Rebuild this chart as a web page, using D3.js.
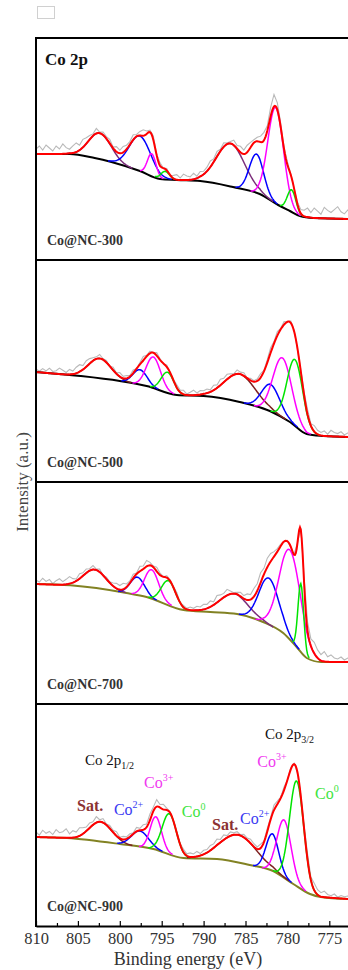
<!DOCTYPE html>
<html>
<head>
<meta charset="utf-8">
<script src="https://cdn.jsdelivr.net/npm/d3@7"></script>
<style>
  body { margin: 0; background: #fff; }
  svg { display: block; }
</style>
</head>
<body>
<svg id="chart" width="348" height="970"></svg>
<script>
// ---- data ----
const xTicks = [810, 805, 800, 795, 790, 785, 780, 775];
const xMinorTicks = [807.5, 802.5, 797.5, 792.5, 787.5, 782.5, 777.5, 772.5];
const samples = ["Co@NC-300", "Co@NC-500", "Co@NC-700", "Co@NC-900"];

// Shirley-type backgrounds [eV, intensity]
const bg300 = [[810,106],[806,106],[803,102],[801,98],[797.6,89],[795.2,81],[793.2,80],[790.4,79],[786.5,73],[783.3,66],[781.1,55],[779.7,49],[778.5,44],[776.9,42],[772.8,41]];
const bg500 = [[810,110],[804.7,106],[800,101],[796.8,96],[793.2,87],[790,86],[785.7,80],[782.1,71],[779.7,60],[777.7,48],[775.7,46],[772.8,45]];
const bg700 = [[810,120],[805.9,118.7],[799.2,111],[796.8,107],[792.4,94],[789.2,92],[786,90],[782.9,82],[780.5,71],[778.9,57],[777.7,46],[776,42],[772.8,42]];
const bg900 = [[810,89],[806.3,88],[800,82],[796,77],[792.4,68],[788.4,67],[784.5,61],[781.7,55],[779.3,42],[777.3,32],[776,29],[772.8,27]];

// fitted components [centre eV, height, FWHM, species]
const fit300 = [[802.4,26,3.2,"sat"],[797.6,35,3.0,"co2"],[796.2,22,1.2,"co3"],[794.6,8,1.2,"co0"],
                [786.8,43,4.0,"sat"],[783.7,39,2.0,"co2"],[781.4,96,2.2,"co3"],[779.5,22,1.2,"co0"]];
const fit500 = [[802.4,20,3.2,"sat"],[797.6,15,2.0,"co2"],[796.0,31,2.0,"co3"],[794.3,20,1.8,"co0"],
                [785.7,28,4.5,"sat"],[782.0,27,2.6,"co2"],[780.6,60,2.6,"co3"],[779.1,66,2.2,"co0"]];
const fit700 = [[803.0,19,3.2,"sat"],[797.9,18,2.0,"co2"],[796.2,29,2.0,"co3"],[794.2,24,2.0,"co0"],
                [786.4,20,4.0,"sat"],[782.2,47,2.8,"co2"],[779.7,90,3.0,"co3"],[778.4,68,0.8,"co0"]];
const fit900 = [[802.3,20,3.2,"sat"],[797.6,16,2.4,"co2"],[795.7,33,1.6,"co3"],[794.1,40,2.0,"co0"],
                [785.9,28,5.0,"sat"],[781.8,37,1.8,"co2"],[780.4,58,2.0,"co3"],[778.9,105,2.0,"co0"]];

// raw counts minus fit envelope, every 0.4 eV from 810 eV
const resid300 = [5,8,4,9,6,3,8,5,10,6,4,7,9,5,8,6, 4,2,5,1,3, 2,4,1,5,3,6,4, 3,5,2,4,6,3, 2,4,1,3,0,2,-1,
                  3,5,2,6,4,3,6,2,5,3, 4,6,3,5,2,4,1, 2,5,3,6,4,7,5,3, 4,6,8,5,9,12,7, 4,2,3,1,0,2,4,
                  6,9,5,10,7,4,11,8,6,9,12,7,5,9,6,8];
const resid500 = [3,1,4,2,5,2,3,6,4,2,5,3,6,7,4,6, 5,3,2,4,1, 2,0,3,1,4,2,3, 1,3,0,2,4,1, 2,0,3,1,-1,2,0,
                  1,3,2,4,1,3,5,2,4,3, 4,2,5,3,6,4,5, 3,1,4,2,3,0,2,1, 2,4,1,3,5,2,4, 1,3,0,2,1,-1,2,
                  3,5,2,6,4,3,5,2,6,4,3,5,2,4,6,3];
const resid700 = [4,2,6,3,5,1,4,6,3,5,7,4,2,5,3,4, 2,4,1,3,0, 2,1,3,5,4,6,3, 2,4,1,5,3,6, 3,1,4,2,0,2,1,
                  1,3,0,2,1,3,2,4,3,5, 4,6,3,7,5,4,6, 3,1,2,4,3,6,5,8, 7,10,6,9,8,5,3, 2,0,1,-1,1,0,2,
                  6,9,7,11,8,6,10,5,7,4,3,5,2,4,3,1];
const resid900 = [5,2,7,4,6,3,8,5,6,9,4,7,5,8,6,4, 5,3,6,2,4, 1,3,2,4,1,3,2, 3,1,4,2,5,3, 6,4,7,3,5,2,1,
                  0,2,1,3,2,4,3,5,2,4, 3,5,4,6,3,5,2, 4,2,3,1,3,2,4,3, 2,4,1,3,2,5,3, 1,3,0,2,1,-1,2,
                  4,6,3,7,5,4,6,3,2,4,1,3,2,3,1,2];

const backgrounds = [bg300, bg500, bg700, bg900];
const fits = [fit300, fit500, fit700, fit900];
const resids = [resid300, resid500, resid700, resid900];

// peak labels of the last panel [text, script, eV, intensity, species, scriptType]
const labels900 = [
  ["Co 2p", "1/2", 804.15, 161, "title", "sub"],
  ["Co 2p", "3/2", 782.67, 187, "title", "sub"],
  ["Sat.", "", 805.1, 115, "sat", ""],
  ["Co", "2+", 800.7, 111, "co2", "sup"],
  ["Co", "3+", 797.1, 138, "co3", "sup"],
  ["Co", "0", 792.6, 109, "co0", "sup"],
  ["Sat.", "", 789.0, 96, "sat", ""],
  ["Co", "2+", 785.65, 102, "co2", "sup"],
  ["Co", "3+", 783.6, 159, "co3", "sup"],
  ["Co", "0", 776.7, 127, "co0", "sup"]
];

// ---- layout ----
const FONT = "'Liberation Serif', 'Times New Roman', Times, 'DejaVu Serif', serif";
const left = 36, right = 348, top0 = 38, panelH = 222;
const bottomAxis = top0 + 4 * panelH;
const lineColor = { co2: "#0000ff", co3: "#ff00ff", co0: "#00e400" };
const satColor = ["#7a2c7a", "#7d1f1f", "#7a2c7a", "#7d1f1f"];
const bgColor = ["#000000", "#000000", "#828223", "#828223"];
const textColor = { title: "#111", sat: "#8b3232", co2: "#3a3af2", co3: "#f03af0", co0: "#3ee43e" };

const svg = d3.select("#chart").attr("font-family", FONT);
const x = d3.scaleLinear().domain([810, 772.77]).range([left, right]);

// small grey box at the very top
svg.append("rect")
    .attr("x", 37.5).attr("y", 6.5).attr("width", 17).attr("height", 12)
    .attr("fill", "none").attr("stroke", "#d0d0d0");

svg.append("defs").append("clipPath").attr("id", "plotclip")
    .append("rect").attr("x", left).attr("y", top0).attr("width", right - left).attr("height", 4 * panelH);

const fine = d3.range(810, 772.6, -0.1);
const gauss = (p, e) => p[1] * Math.exp(-4 * Math.LN2 * (e - p[0]) * (e - p[0]) / (p[2] * p[2]));

samples.forEach((name, i) => {
    const top = top0 + i * panelH, bottom = top + panelH;
    const y = d3.scaleLinear().domain([0, panelH]).range([bottom, top]);
    const bg = backgrounds[i];
    const bgAt = d3.scaleLinear().domain(bg.map(d => d[0])).range(bg.map(d => d[1])).clamp(true);
    const fit = fits[i];
    const envelope = e => bgAt(e) + d3.sum(fit, p => gauss(p, e));

    const g = svg.append("g").attr("clip-path", "url(#plotclip)");
    const line = d3.line().x(d => x(d[0])).y(d => y(d[1]));

    // raw data
    const raw = resids[i].map((r, k) => { const e = 810 - 0.4 * k; return [e, envelope(e) + r]; });
    g.append("path").datum(raw)
        .attr("fill", "none").attr("stroke", "#b9b9b9").attr("stroke-width", 1.1)
        .attr("d", line);

    // background
    g.append("path").datum(bg)
        .attr("fill", "none").attr("stroke", bgColor[i]).attr("stroke-width", 2)
        .attr("d", d3.line().curve(d3.curveMonotoneX).x(d => x(d[0])).y(d => y(d[1])));

    // components
    fit.forEach(p => {
        const pts = fine.filter(e => gauss(p, e) > 0.4).map(e => [e, bgAt(e) + gauss(p, e)]);
        g.append("path").datum(pts)
            .attr("fill", "none")
            .attr("stroke", p[3] === "sat" ? satColor[i] : lineColor[p[3]])
            .attr("stroke-width", 1.5)
            .attr("d", line);
    });

    // envelope
    g.append("path").datum(fine.map(e => [e, envelope(e)]))
        .attr("fill", "none").attr("stroke", "#ff0000").attr("stroke-width", 2)
        .attr("d", line);

    // panel top border
    svg.append("line")
        .attr("x1", left - 1).attr("x2", right).attr("y1", top).attr("y2", top)
        .attr("stroke", "#000").attr("stroke-width", 2);

    svg.append("text")
        .attr("x", 47).attr("y", bottom - 15)
        .attr("font-family", FONT)
        .attr("font-size", 14).attr("font-weight", "bold").attr("fill", "#333")
        .text(name);

    if (i === 0) {
        svg.append("text")
            .attr("x", 45).attr("y", top + 27)
            .attr("font-family", FONT)
            .attr("font-size", 17).attr("font-weight", "bold").attr("fill", "#111")
            .text("Co 2p");
    }

    if (i === 3) {
        labels900.forEach(l => {
            const t = svg.append("text")
                .attr("x", x(l[2])).attr("y", y(l[3]))
                .attr("font-family", FONT)
                .attr("fill", textColor[l[4]])
                .attr("font-size", l[4] === "title" ? 15 : 16)
                .attr("font-weight", l[4] === "sat" ? "bold" : "normal");
            t.append("tspan").text(l[0]);
            if (l[1]) {
                t.append("tspan")
                    .attr("font-size", 10)
                    .attr("dy", l[5] === "sup" ? -7 : 4)
                    .text(l[1]);
            }
        });
    }
});

// left axis line
svg.append("line")
    .attr("x1", left).attr("x2", left).attr("y1", top0 - 1).attr("y2", bottomAxis + 1)
    .attr("stroke", "#000").attr("stroke-width", 2);

// bottom axis
const xAxis = d3.axisBottom(x).tickValues(xTicks).tickSizeInner(-5).tickSizeOuter(0).tickPadding(6);
const axG = svg.append("g").attr("transform", "translate(0," + bottomAxis + ")").call(xAxis);
axG.attr("font-family", FONT).attr("font-size", 16.5);
axG.select(".domain").attr("stroke-width", 2);
axG.selectAll(".tick line").attr("stroke-width", 1.2);
axG.selectAll(".tick text").attr("fill", "#333");

const minor = d3.axisBottom(x).tickValues(xMinorTicks).tickSizeInner(-3).tickSizeOuter(0).tickFormat("");
const minG = svg.append("g").attr("transform", "translate(0," + bottomAxis + ")").call(minor);
minG.select(".domain").remove();
minG.selectAll(".tick text").remove();
minG.selectAll(".tick line").attr("stroke-width", 1.2);

svg.append("text")
    .attr("x", 188).attr("y", 965)
    .attr("font-family", FONT)
    .attr("text-anchor", "middle").attr("font-size", 18).attr("fill", "#333")
    .text("Binding energy (eV)");

svg.append("text")
    .attr("transform", "translate(28," + (top0 + 2 * panelH) + ") rotate(-90)")
    .attr("font-family", FONT)
    .attr("text-anchor", "middle").attr("font-size", 17).attr("fill", "#444")
    .text("Intensity (a.u.)");
</script>
</body>
</html>
